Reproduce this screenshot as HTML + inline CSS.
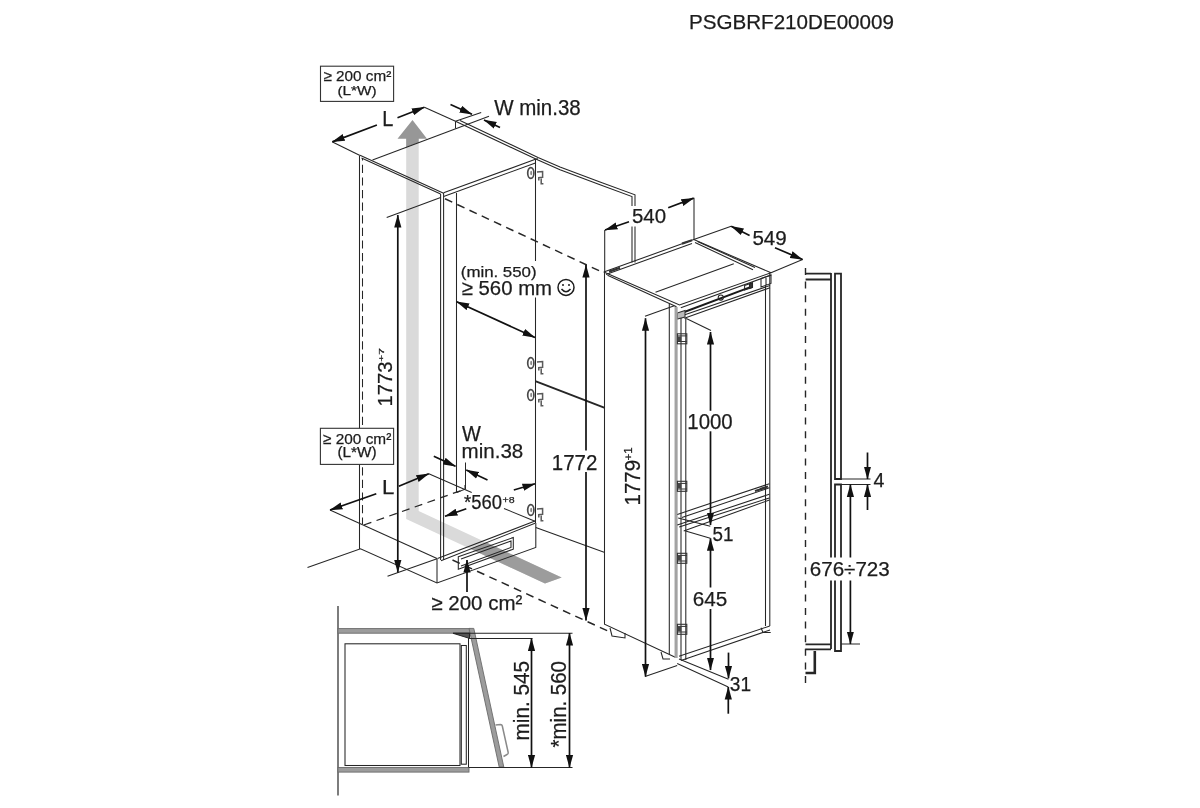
<!DOCTYPE html>
<html><head><meta charset="utf-8">
<style>
html,body{margin:0;padding:0;background:#fff;width:1200px;height:808px;overflow:hidden}
svg{display:block;will-change:transform}
text{font-family:"Liberation Sans",sans-serif;fill:#1c1c1c;stroke:#1c1c1c;stroke-width:0.25}
</style></head><body>
<svg width="1200" height="808" viewBox="0 0 1200 808">
<defs>
<marker id="a" markerWidth="13" markerHeight="8" refX="12.5" refY="4" orient="auto" markerUnits="userSpaceOnUse"><path d="M0,0.4 L13,4 L0,7.6 z" fill="#111"/></marker>
<marker id="as" markerWidth="13" markerHeight="8" refX="0.5" refY="4" orient="auto" markerUnits="userSpaceOnUse"><path d="M13,0.4 L0,4 L13,7.6 z" fill="#111"/></marker>
<linearGradient id="gv" x1="0" y1="120" x2="0" y2="520" gradientUnits="userSpaceOnUse">
<stop offset="0" stop-color="#8a8a8a"/><stop offset="0.05" stop-color="#9a9a9a"/><stop offset="0.09" stop-color="#c4c4c4"/><stop offset="0.14" stop-color="#d6d6d6"/><stop offset="1" stop-color="#d8d8d8"/></linearGradient>
<linearGradient id="gd" x1="412" y1="515" x2="555" y2="580" gradientUnits="userSpaceOnUse">
<stop offset="0" stop-color="#d8d8d8"/><stop offset="0.25" stop-color="#d4d4d4"/><stop offset="0.42" stop-color="#b0b0b0"/><stop offset="1" stop-color="#a2a2a2"/></linearGradient>
<g id="hc">
<ellipse cx="530.8" cy="6" rx="3.1" ry="5.4" fill="none" stroke="#4a4a4a" stroke-width="1.7"/>
<ellipse cx="531.2" cy="6" rx="1" ry="2.2" fill="#888"/>
<path d="M537,5 L542.6,4.6 L542.6,10.2 L538.8,10.6 L538.8,13.5 M541.2,11.5 L541.2,16.8 L543.4,16.8" fill="none" stroke="#5a5a5a" stroke-width="1.5"/>
</g>
<g id="hf">
<rect x="677.4" y="0.3" width="9.4" height="10" fill="none" stroke="#333" stroke-width="1.1"/>
<path d="M677.4,2.4 L686.8,2.4 M677.4,8 L686.8,8" stroke="#333" stroke-width="1" fill="none"/>
<rect x="677.4" y="3" width="4" height="4.5" fill="#444"/>
</g>
</defs>

<!-- header handled as text -->

<!-- gray airflow arrow -->
<path d="M406.2,138.8 L418.7,138.8 L418.7,511 L561.7,577.5 L545,583.5 L406.2,519 Z" fill="#dadada"/>
<path d="M406.2,147.3 L406.2,138.8 L397.5,138.8 L412.5,120 L427,138.8 L418.7,138.8 L418.7,142.6 Z" fill="#979797"/>
<path d="M486.6,542.6 L561.7,577.5 L545,583.5 L470.7,549 Z" fill="#9c9c9c"/>

<g fill="none" stroke="#262626" stroke-width="1.05">
<!-- ===== LEFT CABINET ===== -->
<path d="M424.4,107.3 L455.5,121.3"/>
<path d="M455.5,121.3 L481.2,112.4"/>
<path d="M332.5,142 L360,155.5"/>
<path d="M360,155.3 L443.6,193.2 M361.5,158 L440.6,194.1"/>
<path d="M372.5,160 L489,116.3"/>
<path d="M455.5,121.3 L455.5,128.5"/>
<path d="M443.6,192.8 L535.4,159.3 L538,158.7 M443.6,196.4 L535.4,163"/>
<!-- wall edge double -->
<path d="M460,120.5 L538,157.4 L560,167.1 L600,182.1 L635,194.8 L635,206 M635,226.5 L635,262.5"/>
<path d="M455.5,121.3 L538,160 L560,169.7 L600,184.7 L632,196.6 L632,206 M632,226.5 L632,262.5"/>
<!-- cabinet verticals -->
<path d="M359.5,156 L359.5,549"/>
<path d="M362.5,158 L362.5,524" stroke-dasharray="8.2,4.4" stroke-dashoffset="5.8"/>
<path d="M440.6,194 L440.6,560 M443.6,193 L443.6,560"/>
<path d="M456.5,193 L456.5,492.5"/>
<path d="M535.5,159.3 L535.5,261 M535.5,297.6 L535.5,523"/>
<!-- dashed insertion lines -->
<path d="M445,198.8 L604,273" stroke-dasharray="8,5.5" stroke-width="1.5"/>
<path d="M452.5,560 L609,631.5" stroke-dasharray="8,5.5" stroke-width="1.5"/>
<!-- line from cabinet to fridge -->
<path d="M535.3,381.2 L604.8,407.8" stroke-width="1.9"/>
<!-- floor/plinth -->
<path d="M307.5,567.5 L360.5,548.8 L437,583 L535.8,547.5 L535.8,523"/>
<path d="M330,510 L437,558.5"/>
<path d="M437,558.5 L437,583"/>
<path d="M441,560.8 L535,523.3 M437.5,558.5 L535,521"/>
<path d="M428.8,473.8 L471.7,492.5"/>
<path d="M456.7,492.5 L465,489.2 L465,485"/>
<path d="M363.8,525 L465,489.2" stroke-dasharray="8,5.5" stroke-width="1.3"/>
<path d="M465.5,462.5 L465.5,489"/>
<path d="M458.3,556.7 L513.3,537.5 L513.3,549.2 L458.3,569.2 Z M461,559 L511,541 L511,547.5 L461,566"/>
<path d="M535.8,527.5 L604.8,552.5"/>
<path d="M504,508.5 L535,521.3"/>

<!-- ===== FRIDGE ===== -->
<path d="M603.8,272 L693.8,239.6 L731.2,226.2"/>
<path d="M606,274.5 L692,243.5"/>
<path d="M609,271.6 L620,267.8 M682,243.6 L692,240.2" stroke="#333" stroke-width="2.2"/>
<path d="M603.8,272 L679.5,305 L771,272.8 L693.8,239.6"/>
<path d="M607.5,275.3 L676.5,306.8"/>
<path d="M680.8,307.8 L771.3,275"/>
<path d="M655.5,292.3 L733.8,263.8"/>
<path d="M695,242.5 L753,269.8 M697.5,241.5 L755,267.5"/>
<path d="M683.4,315.3 L770,285.5 M684.3,318.3 L770,287.7"/>
<path d="M679,314 L751,286.8" stroke="#1a1a1a" stroke-width="1.9"/>
<path d="M677.3,313 L685,310.5 L685,317 L677.3,319 Z" fill="#bbb" stroke="#333"/>
<circle cx="720.8" cy="297.5" r="2.6"/>
<path d="M744.6,285.6 L752.5,282.7 L752.5,287.3 L744.6,290 Z M761,278.5 L771,275 L771,283.5 L761,287 Z M766,276.8 L766,285.2"/>
<path d="M749.5,284 L752.5,283 L752.5,287.3 L749.5,288.4 Z" fill="#333"/>
<path d="M604.5,272 L604.5,624.2 L675.3,657.2"/>
<path d="M669.3,303.5 L669.3,654"/>
<path d="M676.1,307 L676.1,658" stroke="#a3a3a3" stroke-width="3.1"/>
<path d="M681,318 L681,660 M685.8,318 L685.8,660"/>
<path d="M765.5,285.5 L765.5,626 M769.8,273 L769.8,626"/>
<path d="M679,656.3 L769.8,626 M681,660.5 L770,630"/>
<!-- freezer divider -->
<path d="M677.3,514.4 L769.4,483.7 M681.9,517.6 L769.4,487.8 M677.3,525 L769.4,494.2 M679.2,527 L769.4,497.9 M683.7,531 L769.4,500"/>
<path d="M760,489 L768,486.5 M755,491 L765,488" stroke="#333" stroke-width="2"/>
<!-- feet -->
<path d="M610,628 L612,636 L625,638 L625,633"/>
<path d="M661,652 L663,659 L670,659"/>
<path d="M761,627.8 L763,632.4 L770.7,632.4"/>

<!-- ===== RIGHT PROFILE ===== -->
<path d="M805.5,268 L805.5,685.5" stroke-dasharray="7,6.6" stroke-width="1.4"/>
<path d="M805.6,273.6 L831,273.6 M805.6,279.5 L831,279.5" stroke-width="1.8"/>
<path d="M831,273 L831,557.5 M831,580.5 L831,649" stroke-width="1.8"/>
<path d="M835,273.6 L841,273.6 L841,479 L835,479 Z" stroke-width="1.8"/>
<path d="M835,557.5 L835,484.5 L841,484.5 L841,557.5 M835,580.5 L835,651 L841,651 L841,580.5" stroke-width="1.8"/>
<path d="M841,479 L870.5,479 M841,484.5 L870.5,484.5 M841,644 L860,644"/>
<path d="M805.5,644.4 L831,644.4 M805.5,649.3 L831,649.3" stroke-width="1.8"/>
<path d="M814.8,651 L814.8,673 L805.5,673" stroke-width="2.6"/>

<!-- ===== PLAN VIEW ===== -->
<path d="M338,606 L338,795.5" stroke-width="1.2"/>
<rect x="338" y="628.6" width="132" height="4.6" fill="#9c9c9c" stroke="#6a6a6a" stroke-width="0.9"/>
<rect x="338" y="767.5" width="131" height="4.6" fill="#9c9c9c" stroke="#6a6a6a" stroke-width="0.9"/>
<rect x="345" y="643.8" width="115" height="121.7"/>
<rect x="461.3" y="645.5" width="5" height="118.7"/>
<path d="M468.5,633 L468.5,767.5" stroke="#222"/>
<path d="M469,628.4 L473.8,628.4 L503.8,767 L499.2,767 Z" fill="#9c9c9c" stroke="#6a6a6a" stroke-width="0.9"/>
<path d="M495.5,725 L500.5,724.5 Q502,724.5 502.3,726 L508.2,752.5 Q508.5,754 507,754.5 L503.5,756.5" stroke="#8a8a8a" stroke-width="1.5"/>
<path d="M453,633.3 L469.5,638.4 L469.5,633.3 Z" fill="#555"/>
<path d="M453,633.3 L572.5,633.3 M469.5,638.4 L532.5,638.4 M469,767.5 L572.5,767.5"/>

<!-- ===== dimension extension lines ===== -->
<path d="M386.7,217.5 L440.6,197.5"/>
<path d="M387.5,576.3 L437,558.8"/>
<path d="M604.7,230 L604.7,272"/>
<path d="M694,197.8 L694,239.6"/>
<path d="M771,272.8 L802.6,259.5"/>
<path d="M645,316.3 L674.3,305.8"/>
<path d="M686.3,318.5 L711,330.5"/>
<path d="M678.2,518 L710.3,526.3"/>
<path d="M685.6,530.9 L710.3,538.2"/>
<path d="M645,676.4 L677.2,665.4"/>
<path d="M679,659 L728.5,679.2 M677.2,663.6 L728.3,687"/>
</g>

<!-- hinges -->
<use href="#hc" y="167"/>
<use href="#hc" y="357"/>
<use href="#hc" y="389"/>
<use href="#hc" y="504"/>
<use href="#hf" y="333.5"/>
<use href="#hf" y="481"/>
<use href="#hf" y="553"/>
<use href="#hf" y="624"/>

<!-- ===== dimension arrows ===== -->
<g fill="none" stroke="#111" stroke-width="1.7">
<path d="M376.9,125 L332.3,141.9" marker-end="url(#a)"/>
<path d="M397.5,117.8 L424.4,107.3" marker-end="url(#a)"/>
<path d="M450.5,104.5 L472,114.3" marker-end="url(#a)"/>
<path d="M500,127.5 L484,120" marker-end="url(#a)"/>
<path d="M397.8,572.5 L397.8,215" marker-end="url(#a)" marker-start="url(#as)"/>
<path d="M376.3,493.8 L330,510" marker-end="url(#a)"/>
<path d="M398.8,486.3 L428.8,473.8" marker-end="url(#a)"/>
<path d="M433.8,456.3 L455.5,466.3" marker-end="url(#a)"/>
<path d="M487.5,480 L466.3,470" marker-end="url(#a)"/>
<path d="M466.3,508.8 L445,516.3" marker-end="url(#a)"/>
<path d="M513.8,490 L535,483.8" marker-end="url(#a)"/>
<path d="M456.7,301.7 L535,337.5" marker-end="url(#a)" marker-start="url(#as)"/>
<path d="M467,592 L467,560" marker-end="url(#a)"/>
<path d="M629,221.7 L605,230" marker-end="url(#a)"/>
<path d="M668.2,207.8 L693.7,198.1" marker-end="url(#a)"/>
<path d="M749.6,235.4 L731.2,226.2" marker-end="url(#a)"/>
<path d="M775,247.8 L802.6,259.5" marker-end="url(#a)"/>
<path d="M586,450.5 L586,265" marker-end="url(#a)"/>
<path d="M586,472 L586,620.5" marker-end="url(#a)"/>
<path d="M645.5,676.4 L645.5,318.3" marker-end="url(#a)" marker-start="url(#as)"/>
<path d="M710.5,410.8 L710.5,332" marker-end="url(#a)"/>
<path d="M710.5,431.3 L710.5,525" marker-end="url(#a)"/>
<path d="M710.5,587.5 L710.5,538.3" marker-end="url(#a)"/>
<path d="M710.5,609 L710.5,670" marker-end="url(#a)"/>
<path d="M728.5,652.6 L728.5,678.3" marker-end="url(#a)"/>
<path d="M728.3,713.7 L728.3,687" marker-end="url(#a)"/>
<path d="M867.5,452.5 L867.5,479" marker-end="url(#a)"/>
<path d="M867.5,510 L867.5,484.5" marker-end="url(#a)"/>
<path d="M850.4,557.5 L850.4,484.5" marker-end="url(#a)"/>
<path d="M850.4,580.5 L850.4,644" marker-end="url(#a)"/>
<path d="M531.5,638.4 L531.5,767.5" marker-end="url(#a)" marker-start="url(#as)"/>
<path d="M569.5,633 L569.5,767.5" marker-end="url(#a)" marker-start="url(#as)"/>
</g>

<!-- boxes -->
<rect x="320.5" y="66.2" width="73.1" height="35.2" fill="#fff" stroke="#333" stroke-width="1.1"/>
<rect x="320.4" y="428.3" width="73.2" height="36.1" fill="#fff" stroke="#333" stroke-width="1.1"/>
<!-- smiley -->
<g fill="none" stroke="#1c1c1c" stroke-width="1.5">
<circle cx="566" cy="287.4" r="8"/>
<path d="M561.5,289 Q566,294.5 570.5,289"/>
</g>
<circle cx="563" cy="285" r="1" fill="#1c1c1c"/>
<circle cx="569" cy="285" r="1" fill="#1c1c1c"/>

<g>
<text x="688.95" y="29.00" font-size="20.35" textLength="205.00" lengthAdjust="spacingAndGlyphs">PSGBRF210DE00009</text>
<text x="323.44" y="81.00" font-size="15.12" textLength="67.86" lengthAdjust="spacingAndGlyphs">≥ 200 cm²</text>
<text x="337.48" y="94.90" font-size="13.66" textLength="39.24" lengthAdjust="spacingAndGlyphs">(L*W)</text>
<text x="323.04" y="443.50" font-size="15.41" textLength="68.26" lengthAdjust="spacingAndGlyphs">≥ 200 cm²</text>
<text x="337.48" y="457.30" font-size="13.95" textLength="39.24" lengthAdjust="spacingAndGlyphs">(L*W)</text>
<text x="382.15" y="125.60" font-size="21.22" textLength="11.12" lengthAdjust="spacingAndGlyphs">L</text>
<text x="381.97" y="493.75" font-size="20.28" textLength="12.36" lengthAdjust="spacingAndGlyphs">L</text>
<text x="494.20" y="114.60" font-size="21.51" textLength="86.54" lengthAdjust="spacingAndGlyphs">W min.38</text>
<text x="461.90" y="441.25" font-size="21.44" textLength="18.88" lengthAdjust="spacingAndGlyphs">W</text>
<text x="461.57" y="458.40" font-size="20.93" textLength="61.68" lengthAdjust="spacingAndGlyphs">min.38</text>
<text x="460.79" y="276.75" font-size="14.32" textLength="75.80" lengthAdjust="spacingAndGlyphs">(min. 550)</text>
<text x="461.69" y="295.00" font-size="20.93" textLength="90.39" lengthAdjust="spacingAndGlyphs">≥ 560 mm</text>
<text x="464.02" y="508.75" font-size="19.40" textLength="37.90" lengthAdjust="spacingAndGlyphs">*560</text>
<text x="502.48" y="502.50" font-size="9.74" textLength="12.11" lengthAdjust="spacingAndGlyphs">+8</text>
<text x="431.39" y="609.50" font-size="20.35" textLength="90.98" lengthAdjust="spacingAndGlyphs">≥ 200 cm²</text>
<text x="631.98" y="223.30" font-size="20.49" textLength="34.16" lengthAdjust="spacingAndGlyphs">540</text>
<text x="752.38" y="244.60" font-size="20.64" textLength="34.37" lengthAdjust="spacingAndGlyphs">549</text>
<text x="551.81" y="469.60" font-size="21.95" textLength="45.63" lengthAdjust="spacingAndGlyphs">1772</text>
<text x="687.32" y="429.00" font-size="21.95" textLength="45.42" lengthAdjust="spacingAndGlyphs">1000</text>
<text x="712.45" y="540.80" font-size="19.62" textLength="20.92" lengthAdjust="spacingAndGlyphs">51</text>
<text x="692.66" y="605.70" font-size="20.93" textLength="34.59" lengthAdjust="spacingAndGlyphs">645</text>
<text x="729.83" y="690.70" font-size="20.06" textLength="21.26" lengthAdjust="spacingAndGlyphs">31</text>
<text x="873.61" y="486.50" font-size="21.08" textLength="10.90" lengthAdjust="spacingAndGlyphs">4</text>
<text x="809.77" y="576.30" font-size="20.35" textLength="79.97" lengthAdjust="spacingAndGlyphs">676÷723</text>
<text transform="translate(392.30,405.00) rotate(-90)" x="-1.41" y="0" font-size="20.93" textLength="44.84" lengthAdjust="spacingAndGlyphs">1773</text>
<text transform="translate(384.20,361.30) rotate(-90)" x="-0.47" y="0" font-size="7.85" textLength="13.52" lengthAdjust="spacingAndGlyphs">+7</text>
<text transform="translate(639.60,504.00) rotate(-90)" x="-1.43" y="0" font-size="21.37" textLength="45.47" lengthAdjust="spacingAndGlyphs">1779</text>
<text transform="translate(631.50,460.00) rotate(-90)" x="-0.46" y="0" font-size="10.17" textLength="13.09" lengthAdjust="spacingAndGlyphs">+1</text>
<text transform="translate(528.50,739.20) rotate(-90)" x="-1.24" y="0" font-size="21.22" textLength="79.39" lengthAdjust="spacingAndGlyphs">min. 545</text>
<text transform="translate(566.30,747.20) rotate(-90)" x="-0.20" y="0" font-size="21.95" textLength="86.34" lengthAdjust="spacingAndGlyphs">*min. 560</text>
</g>
</svg>
</body></html>
